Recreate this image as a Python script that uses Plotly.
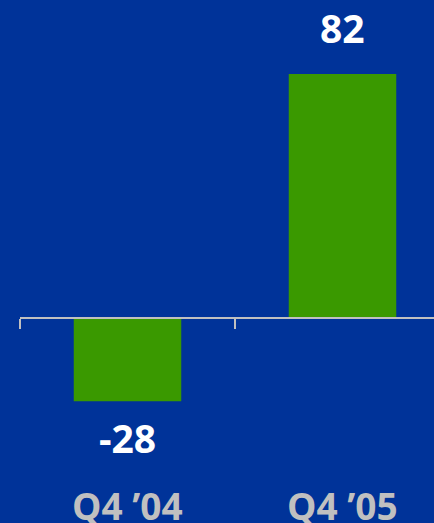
import plotly.graph_objects as go

# data
quarters = ["Q4 \u201904", "Q4 \u201905"]
values = [-28, 82]

BG = "#003399"
GREEN = "#3a9900"
GREY = "#c0c0c0"

x_pos = list(range(len(quarters)))
y_min, y_max = -68.9, 106.85

fig = go.Figure()
fig.add_trace(go.Bar(
    x=x_pos,
    y=values,
    width=0.5,
    marker=dict(color=GREEN, line=dict(width=0)),
    hoverinfo="skip",
    showlegend=False,
))

annotations = []
for xi, v in zip(x_pos, values):
    annotations.append(dict(
        x=xi, y=v, xref="x", yref="y",
        text=str(v), showarrow=False,
        yanchor="middle", yshift=46 if v > 0 else -36,
        font=dict(family="Open Sans", size=39, color="white", weight="bold"),
    ))
for xi, q in zip(x_pos, quarters):
    annotations.append(dict(
        x=xi, y=0.034, xref="x", yref="paper",
        text=q, showarrow=False, yanchor="middle",
        font=dict(family="Open Sans", size=37, color=GREY, weight="bold"),
    ))

fig.update_layout(
    width=434, height=523,
    margin=dict(l=20, r=0, t=0, b=0),
    paper_bgcolor=BG, plot_bgcolor=BG,
    annotations=annotations,
    xaxis=dict(
        range=[-0.5, -0.5 + 414 / 215],
        anchor="free",
        position=(0 - y_min) / (y_max - y_min),
        showline=True, linecolor=GREY, linewidth=2,
        ticks="outside", tickvals=[-0.5, 0.5, 1.5],
        ticklen=10, tickwidth=2, tickcolor=GREY,
        showticklabels=False, showgrid=False, zeroline=False,
    ),
    yaxis=dict(
        range=[y_min, y_max], visible=False,
        showgrid=False, zeroline=False,
    ),
)

fig.write_html("out.html", config={"displayModeBar": False})

# drop the default page margin so the chart fills the window
with open("out.html", encoding="utf-8") as f:
    html = f.read()
html = html.replace("<head>", "<head><style>html,body{margin:0;padding:0;overflow:hidden;background:#003399;}</style>", 1)
with open("out.html", "w", encoding="utf-8") as f:
    f.write(html)
